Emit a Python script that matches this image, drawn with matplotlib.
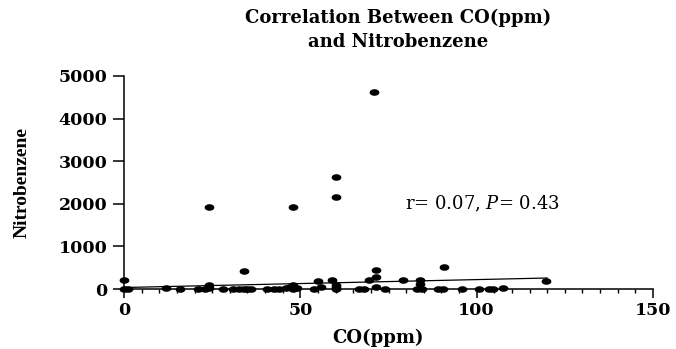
import numpy as np
import matplotlib
matplotlib.use("Agg")
import matplotlib.pyplot as plt
from matplotlib.path import Path
from matplotlib.ticker import MultipleLocator

# CO (ppm) vs nitrobenzene
co_ppm = [0, 0, 1, 12, 16, 21, 23, 24, 24, 24, 28, 31, 32.5, 34, 34, 35, 36,
          40.5, 42.5, 44, 46, 47, 48, 48, 49, 48, 54, 55, 56, 59, 60, 60, 60,
          60, 60, 66.5, 68, 69.5, 71.5, 71.5, 71.5, 71, 74, 79, 84, 84, 83,
          84.5, 89, 90.5, 90.8, 95.7, 100.8, 103.5, 104.7, 107.5, 119.7]
nitrobenzene = [200, 10, 5, 15, 5, 5, 10, 95, 20, 1920, 5, 5, 10, 430, 5, 10, 5,
                5, 5, 10, 20, 55, 95, 10, 30, 1920, 5, 190, 50, 210, 95, 40, 5,
                2630, 2160, 5, 5, 215, 280, 450, 50, 4620, 10, 210, 215, 110, 5,
                5, 5, 5, 505, 5, 5, 5, 10, 15, 190]

# regression line as drawn in the figure
fit_x = [0, 120]
fit_y = [35, 258]
stats_text = r"r= 0.07, $\it{P}$= 0.43"

plt.rcParams['font.family'] = ['DejaVu Serif']
plt.rcParams['mathtext.fontset'] = 'dejavuserif'

fig = plt.figure(figsize=(6.76, 3.49), dpi=100)
ax = fig.add_axes([124/676, 60/349, 529/676, 213/349])

# wide ellipse marker like the original
t = np.linspace(0, 2*np.pi, 40)
ell = Path(np.column_stack([np.cos(t), 0.62*np.sin(t)]), closed=True)

ax.plot(fit_x, fit_y, color='black', lw=0.9, zorder=2)
ax.plot(co_ppm, nitrobenzene, ls='none', marker=ell, ms=6.0, color='black',
        clip_on=False, zorder=3)

ax.set_xlim(0, 150)
ax.set_ylim(0, 5000)
ax.xaxis.set_major_locator(MultipleLocator(50))
ax.xaxis.set_minor_locator(MultipleLocator(5))
ax.yaxis.set_major_locator(MultipleLocator(1000))

for s in ['top', 'right']:
    ax.spines[s].set_visible(False)
for s in ['left', 'bottom']:
    ax.spines[s].set_linewidth(1.1)

ax.tick_params(axis='y', which='major', length=8, width=1.1, labelsize=12.5, pad=4)
ax.tick_params(axis='x', which='major', length=6.5, width=1.1, labelsize=12.5, pad=3)
ax.tick_params(axis='x', which='minor', length=3, width=1.0)
for lab in ax.get_xticklabels() + ax.get_yticklabels():
    lab.set_fontweight('bold')

ax.set_xlabel("CO(ppm)", fontsize=13, fontweight='bold')
ax.xaxis.set_label_coords(0.481, -0.185)
ax.set_ylabel("Nitrobenzene", fontsize=14, fontweight='bold',
              family='Liberation Serif')
ax.yaxis.set_label_coords(-0.176, 0.5)

ax.text(79.7, 2000, stats_text, fontsize=13, va='center', ha='left')

fig.text(398/676, 1 - 30/349, "Correlation Between CO(ppm)\nand Nitrobenzene",
         ha='center', va='center', fontsize=13, fontweight='bold', linespacing=1.45)

fig.savefig("out.png", dpi=100)
